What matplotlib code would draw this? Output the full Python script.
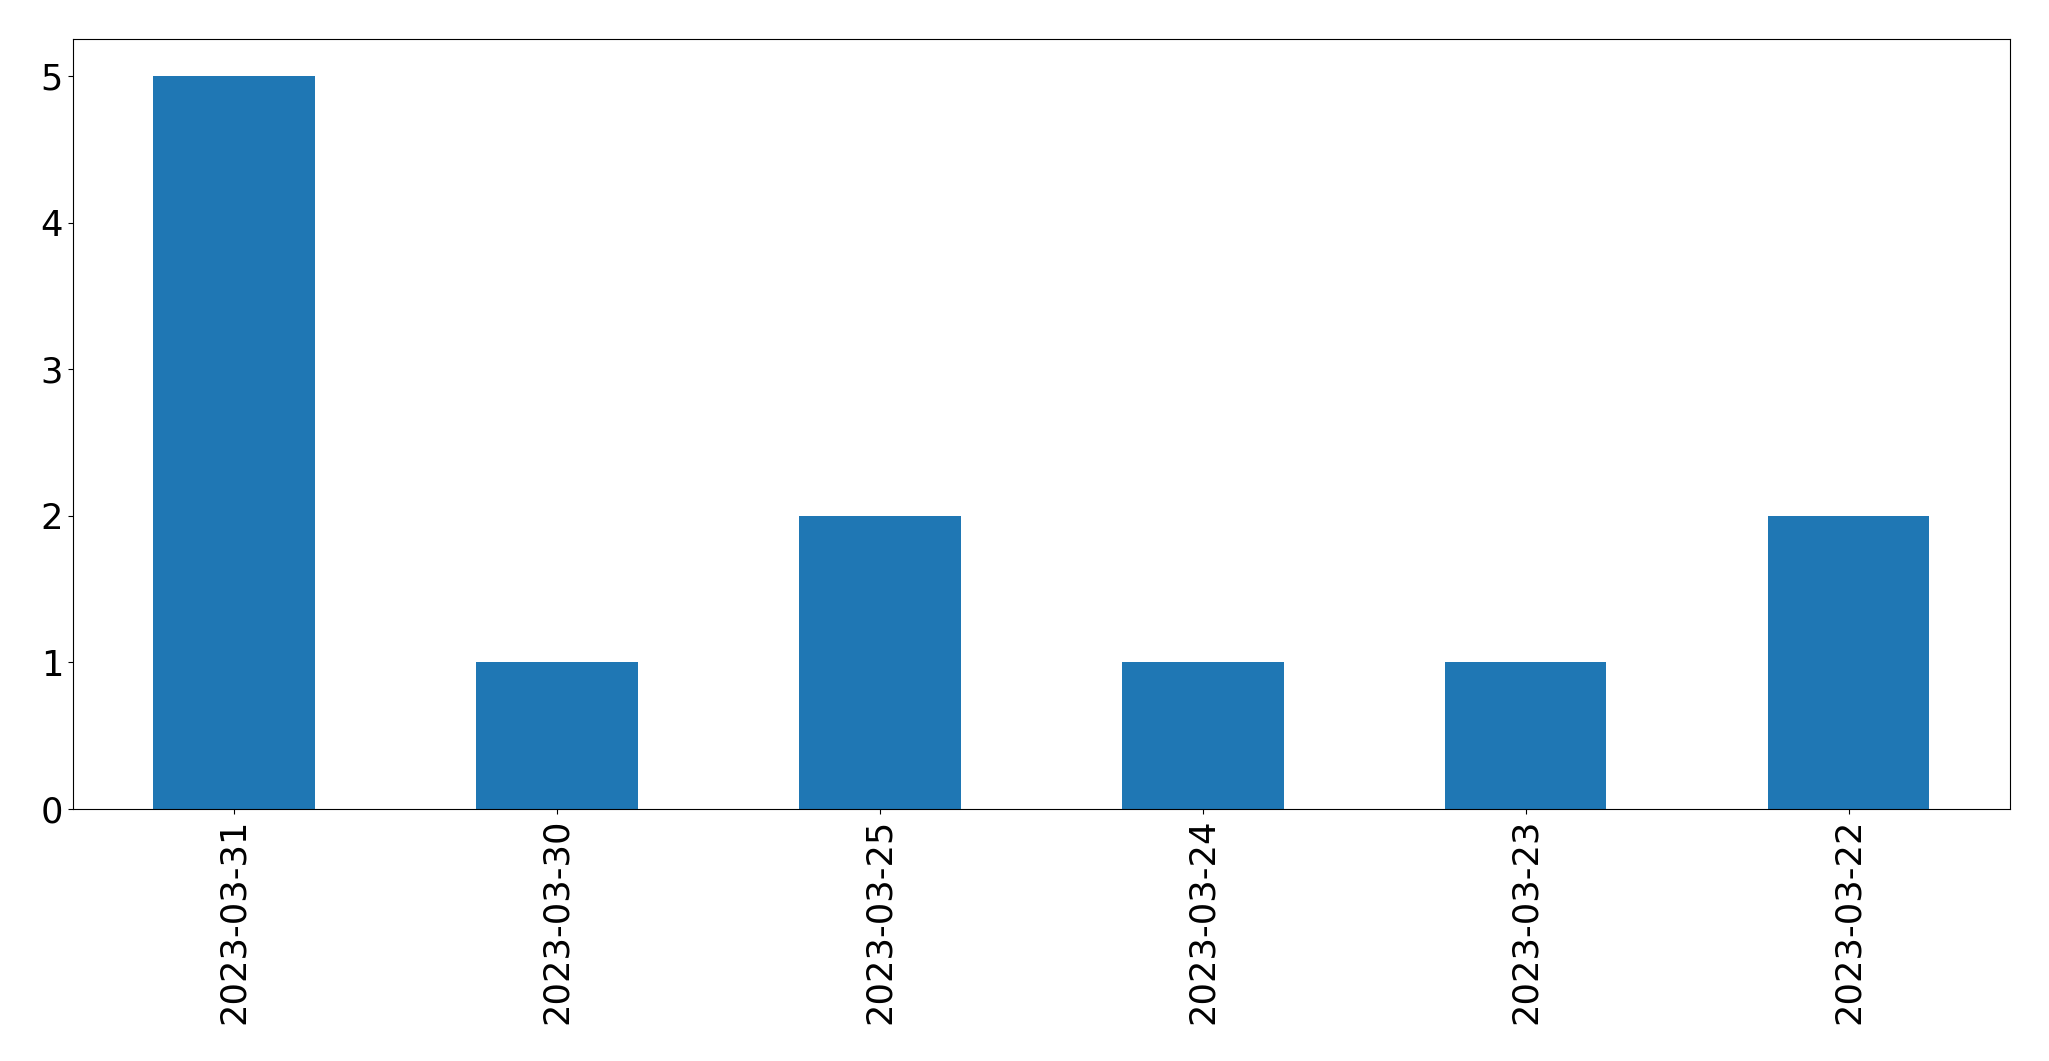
import matplotlib
matplotlib.use("Agg")
import matplotlib.pyplot as plt

dates = ["2023-03-31", "2023-03-30", "2023-03-25", "2023-03-24", "2023-03-23", "2023-03-22"]
counts = [5, 1, 2, 1, 1, 2]

fig = plt.figure(figsize=(20.49, 10.61), dpi=100)
ax = fig.add_axes([0.0355, 0.2375, 0.9455, 0.7255])
x = list(range(len(dates)))
ax.bar(x, counts, width=0.5, color="#1f77b4")
ax.set_xlim(-0.5, len(dates) - 0.5)
ax.set_xticks(x)
ax.set_xticklabels(dates, rotation=90)
ax.set_yticks([0, 1, 2, 3, 4, 5])
ax.tick_params(labelsize=25.4)
fig.savefig("out.png", dpi=100)
